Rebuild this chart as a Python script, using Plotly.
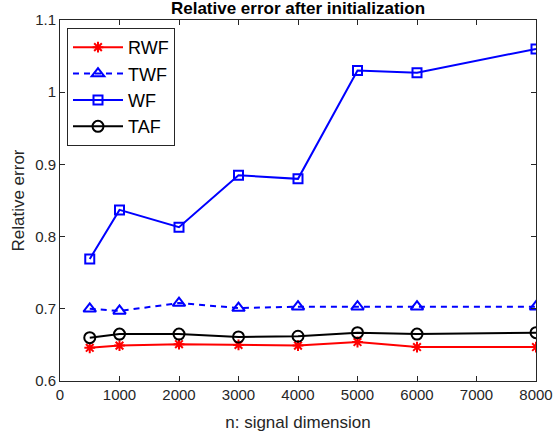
import plotly.graph_objects as go

n = [500, 1000, 2000, 3000, 4000, 5000, 6000, 8000]
rwf = [0.646, 0.649, 0.651, 0.650, 0.649, 0.654, 0.647, 0.647]
twf = [0.700, 0.697, 0.708, 0.701, 0.703, 0.703, 0.703, 0.703]
wf = [0.769, 0.837, 0.813, 0.885, 0.880, 1.030, 1.027, 1.060]
taf = [0.660, 0.665, 0.665, 0.661, 0.662, 0.667, 0.665, 0.667]
names = ["RWF", "TWF", "WF", "TAF"]

xticks = [0, 1000, 2000, 3000, 4000, 5000, 6000, 7000, 8000]
yticks = [0.6, 0.7, 0.8, 0.9, 1.0, 1.1]
ytext = ["0.6", "0.7", "0.8", "0.9", "1", "1.1"]

FONT = "Liberation Sans, Arial, Helvetica"

fig = go.Figure()
fig.add_trace(go.Scatter(x=n, y=rwf, name=names[0], mode="lines+markers",
                         line=dict(color="#ff0000", width=2),
                         marker=dict(symbol="asterisk-open", size=9, line=dict(color="#ff0000", width=2))))
fig.add_trace(go.Scatter(x=n, y=twf, name=names[1], mode="lines+markers",
                         line=dict(color="#0000ff", width=2, dash="6px,5px"),
                         marker=dict(symbol="triangle-up-open", size=11, color="#0000ff", line=dict(color="#0000ff", width=2))))
fig.add_trace(go.Scatter(x=n, y=wf, name=names[2], mode="lines+markers",
                         line=dict(color="#0000ff", width=2),
                         marker=dict(symbol="square-open", size=9, color="#0000ff", line=dict(color="#0000ff", width=2))))
fig.add_trace(go.Scatter(x=n, y=taf, name=names[3], mode="lines+markers",
                         line=dict(color="#000000", width=2),
                         marker=dict(symbol="circle-open", size=11, color="#000000", line=dict(color="#000000", width=2))))

axis_common = dict(showgrid=False, zeroline=False, showline=True, linecolor="#262626",
                   linewidth=1, mirror="ticks", ticks="inside", ticklen=5, tickcolor="#262626",
                   automargin=False,
                   tickfont=dict(family=FONT, size=15, color="#262626"))

fig.update_layout(
    width=553, height=436,
    margin=dict(l=60, r=17, t=20, b=55),
    paper_bgcolor="white", plot_bgcolor="white",
    title=dict(text="<b>Relative error after initialization</b>", xref="paper", x=0.5, xanchor="center",
               yref="container", y=0.982, yanchor="middle",
               font=dict(family=FONT, size=17, color="#000000")),
    xaxis=dict(range=[0, 8000], tickvals=xticks, ticktext=[str(v) for v in xticks],
               title=dict(text="n: signal dimension", standoff=14,
                          font=dict(family=FONT, size=17, color="#262626")),
               **axis_common),
    yaxis=dict(range=[0.6, 1.1], tickvals=yticks, ticktext=ytext,
               title=dict(text="Relative error", standoff=6,
                          font=dict(family=FONT, size=17, color="#262626")),
               **axis_common),
    legend=dict(x=0.0147, y=0.978, xanchor="left", yanchor="top",
                bgcolor="white", bordercolor="#262626", borderwidth=1,
                font=dict(family=FONT, size=18, color="#000000"),
                itemwidth=50),
    showlegend=True,
)

fig.write_html("out.html")
